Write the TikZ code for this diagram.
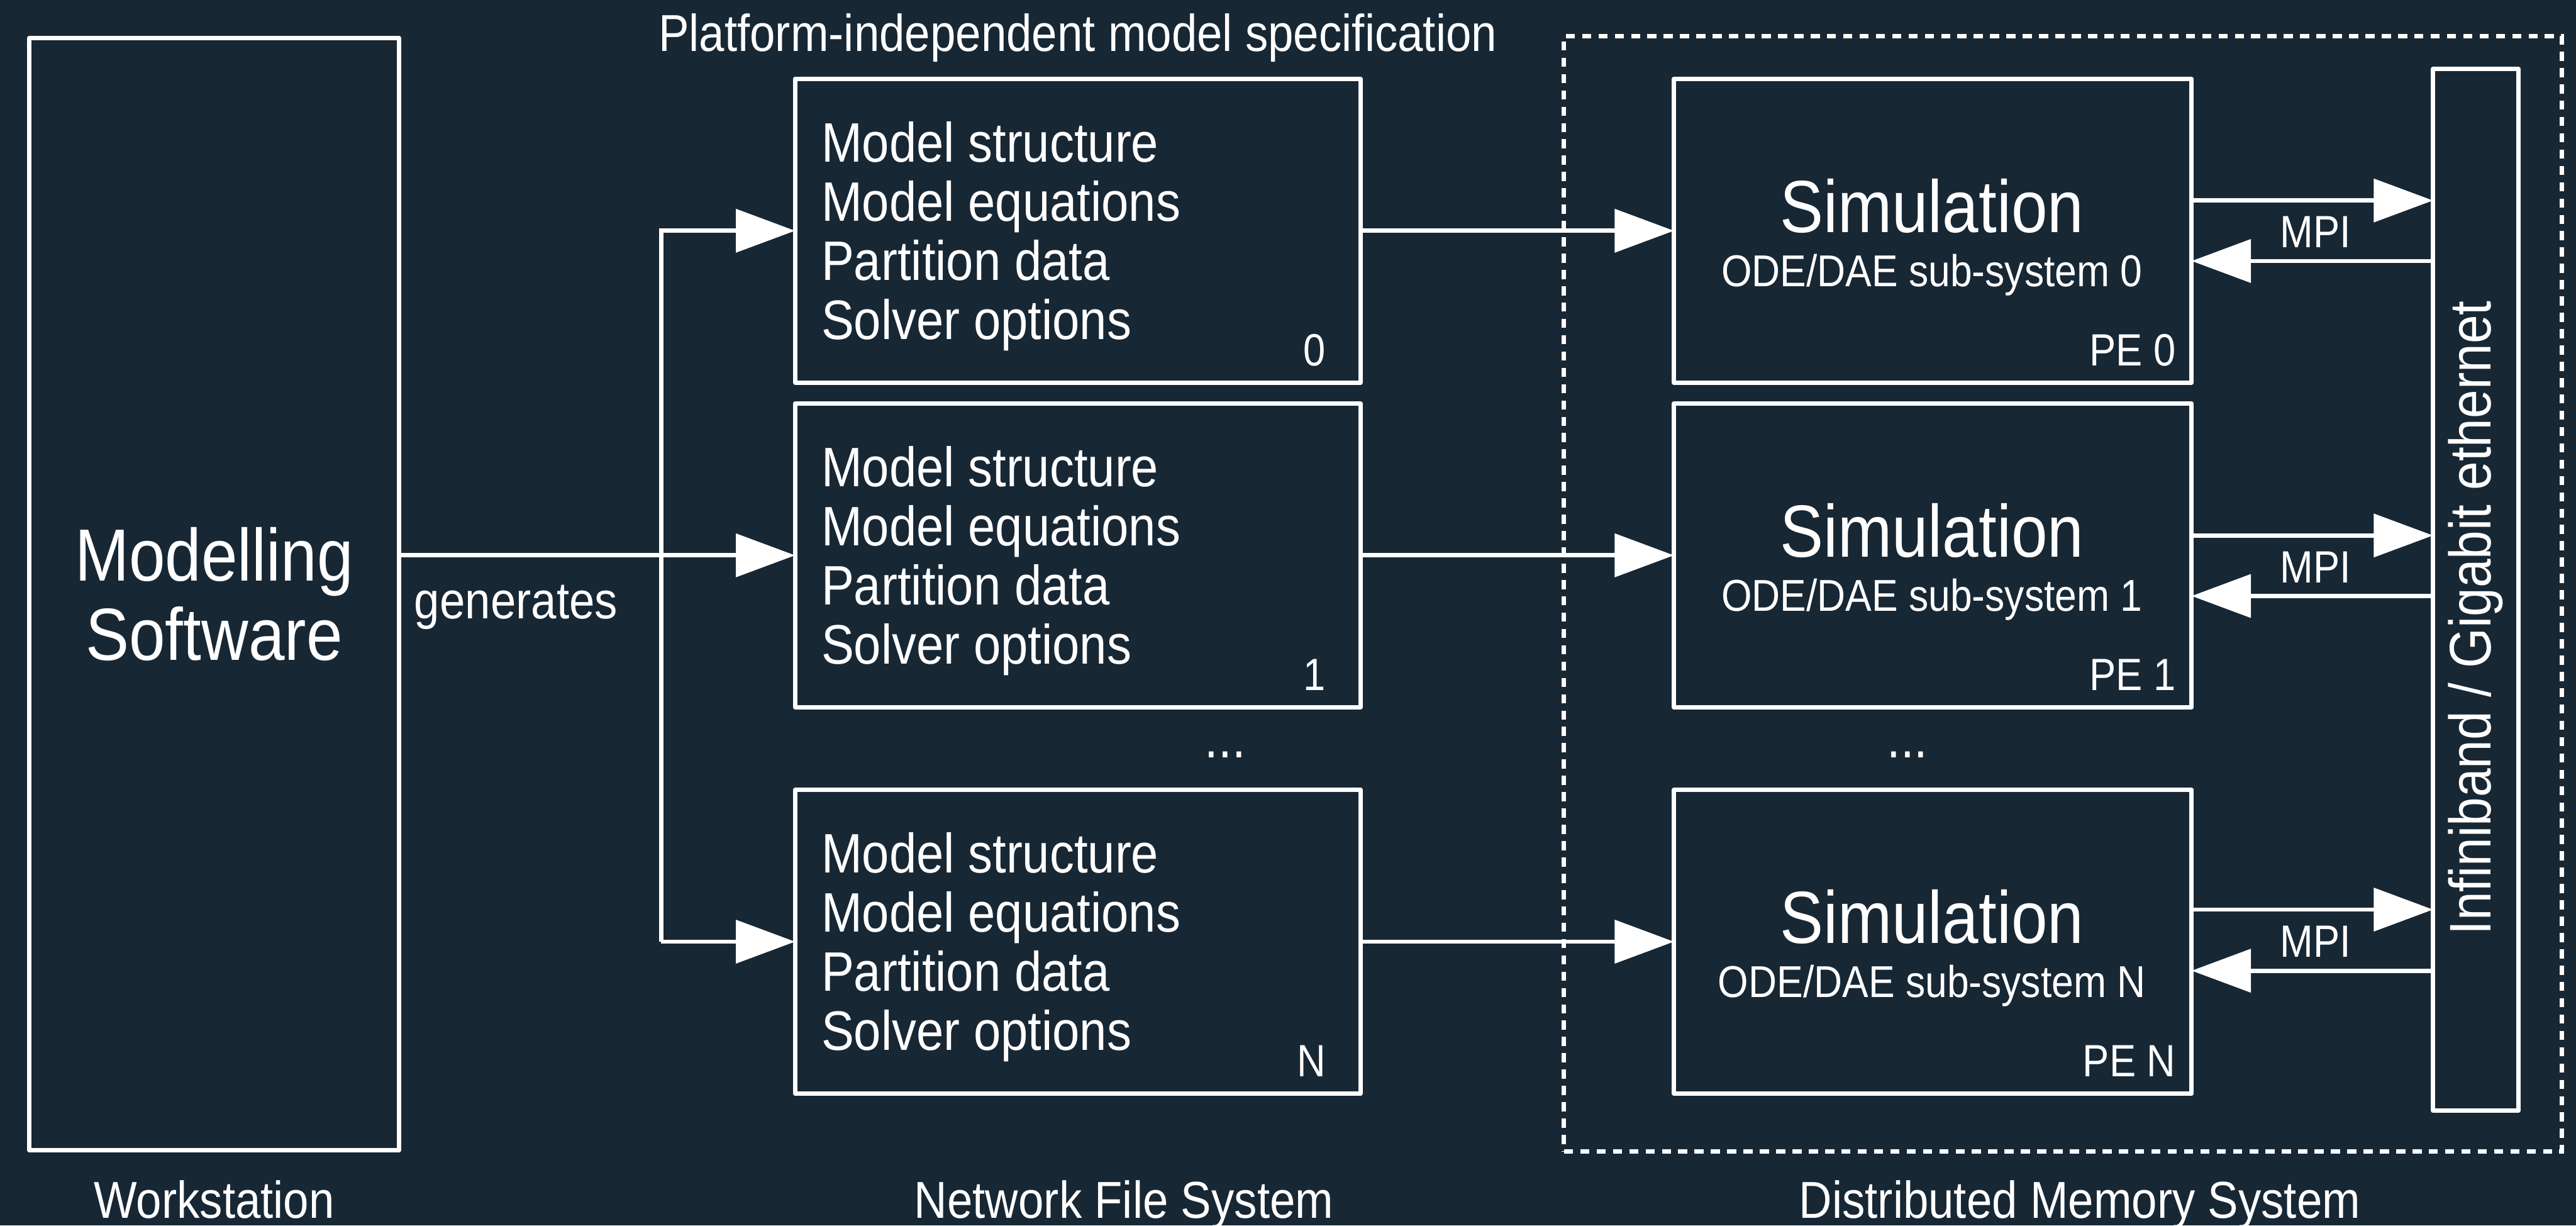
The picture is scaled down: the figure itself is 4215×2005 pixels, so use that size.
\documentclass[tikz,border=0pt]{standalone}
\usepackage{fontspec}
\setmainfont{Liberation Sans}[FakeStretch=0.88]
\usetikzlibrary{arrows.meta}

\definecolor{bgnavy}{RGB}{24,39,52}

\newcommand\specfont{\fontsize{9.1}{9.67}\selectfont}
\newcommand\simfont{\fontsize{12.1}{13}\selectfont}
\newcommand\subfont{\fontsize{7.3}{8}\selectfont}
\newcommand\pefont{\fontsize{7.4}{8.5}\selectfont}
\newcommand\lblfont{\fontsize{8.5}{10}\selectfont}
\newcommand\bigfont{\fontsize{12.1}{12.9}\selectfont}
\newcommand\netfont{\fontsize{9.6}{11}\selectfont}

\begin{document}
\begin{tikzpicture}[x=0.1pt,y=-0.1pt,
  box/.style={draw=white,line width=0.7pt,line join=round,inner sep=0pt,outer sep=0pt},
  specbox/.style={box,minimum width=92.5pt,minimum height=49.7pt},
  simbox/.style={box,minimum width=84.7pt,minimum height=49.7pt},
  wire/.style={white,line width=0.7pt},
  arr/.style={wire,-{Triangle[length=9.7pt,width=7pt]}},
  txt/.style={text=white,inner sep=0pt}]

\fill[bgnavy] (0,0) rectangle (4215,2005);
\useasboundingbox (0,0) rectangle (4215,2005);

% Distributed memory system frame
\node[draw=white,line width=0.7pt,dash pattern=on 1.5pt off 1.17pt,inner sep=0pt,
  minimum width=163.3pt,minimum height=182.5pt] (dms) at (3375.5,971.5) {};

% Workstation
\node[box,minimum width=60.5pt,minimum height=182pt,text=white,align=center,font=\bigfont]
  (ws) at (350.5,972) {Modelling\\Software};

% Model specification files
\node[specbox] (spec0) at (1763.5,377.5) {};
\node[specbox] (spec1) at (1763.5,908.5) {};
\node[specbox] (specN) at (1763.5,1540.5) {};
\node[txt,anchor=north west,align=left,font=\specfont] (spec0txt) at ([xshift=4.1pt,yshift=-6.8pt]spec0.north west)
  {Model structure\\Model equations\\Partition data\\Solver options};
\node[txt,anchor=north west,align=left,font=\specfont] (spec1txt) at ([xshift=4.1pt,yshift=-6.8pt]spec1.north west)
  {Model structure\\Model equations\\Partition data\\Solver options};
\node[txt,anchor=north west,align=left,font=\specfont] (specNtxt) at ([xshift=4.1pt,yshift=-6.8pt]specN.north west)
  {Model structure\\Model equations\\Partition data\\Solver options};
\node[txt,anchor=base east,font=\pefont] (spec0no) at ([xshift=-5.5pt,yshift=2.8pt]spec0.south east) {0};
\node[txt,anchor=base east,font=\pefont] (spec1no) at ([xshift=-5.5pt,yshift=2.8pt]spec1.south east) {1};
\node[txt,anchor=base east,font=\pefont] (specNno) at ([xshift=-5.5pt,yshift=2.8pt]specN.south east) {N};

% Simulation processes
\node[simbox] (sim0) at (3162.5,377.5) {};
\node[simbox] (sim1) at (3162.5,908.5) {};
\node[simbox] (simN) at (3162.5,1540.5) {};
\node[txt,anchor=base,font=\simfont] (sim0a) at ([xshift=-0.15pt,yshift=-25.1pt]sim0.north) {Simulation};
\node[txt,anchor=base,font=\subfont] (sim0b) at ([xshift=-0.15pt,yshift=-34pt]sim0.north) {ODE/DAE sub-system 0};
\node[txt,anchor=base,font=\simfont] (sim1a) at ([xshift=-0.15pt,yshift=-25.1pt]sim1.north) {Simulation};
\node[txt,anchor=base,font=\subfont] (sim1b) at ([xshift=-0.15pt,yshift=-34pt]sim1.north) {ODE/DAE sub-system 1};
\node[txt,anchor=base,font=\simfont] (simNa) at ([xshift=-0.15pt,yshift=-25.1pt]simN.north) {Simulation};
\node[txt,anchor=base,font=\subfont] (simNb) at ([xshift=-0.15pt,yshift=-34pt]simN.north) {ODE/DAE sub-system N};
\node[txt,anchor=base east,font=\pefont] (pe0) at ([xshift=-2.4pt,yshift=2.8pt]sim0.south east) {PE 0};
\node[txt,anchor=base east,font=\pefont] (pe1) at ([xshift=-2.4pt,yshift=2.8pt]sim1.south east) {PE 1};
\node[txt,anchor=base east,font=\pefont] (peN) at ([xshift=-2.4pt,yshift=2.8pt]simN.south east) {PE N};

\node[txt,anchor=base,font=\specfont] (dots1) at (2005,1240) {...};
\node[txt,anchor=base,font=\specfont] (dots2) at (3121,1240) {...};

% Interconnect
\node[box,minimum width=14pt,minimum height=170.4pt] (ib) at (4051,965) {};
\node[txt,rotate=90,font=\netfont] (ibtxt) at (4051,1011) {Infiniband / Gigabit ethernet};

% generates
\coordinate (fork) at (1082,909);
\draw[arr] (ws.east |- spec1) -- (spec1);
\draw[arr] (fork |- specN) -- (fork |- spec0) -- (spec0);
\draw[arr] (fork |- specN) -- (specN);
\node[txt,anchor=base west,font=\lblfont] (gen) at (676,1012) {generates};

% files to processes
\draw[arr] (spec0) -- (sim0);
\draw[arr] (spec1) -- (sim1);
\draw[arr] (specN) -- (simN);

% MPI traffic
\coordinate (up0) at ([yshift=4.95pt]sim0.east);
\coordinate (dn0) at ([yshift=-4.95pt]sim0.east);
\coordinate (up1) at ([yshift=3.25pt]sim1.east);
\coordinate (dn1) at ([yshift=-6.65pt]sim1.east);
\coordinate (upN) at ([yshift=5.25pt]simN.east);
\coordinate (dnN) at ([yshift=-4.75pt]simN.east);
\draw[arr] (up0) -- (up0 -| ib.west);
\draw[arr] (dn0 -| ib.west) -- (dn0);
\draw[arr] (up1) -- (up1 -| ib.west);
\draw[arr] (dn1 -| ib.west) -- (dn1);
\draw[arr] (upN) -- (upN -| ib.west);
\draw[arr] (dnN -| ib.west) -- (dnN);
\node[txt,font=\pefont] (mpi0) at (3789,380) {MPI};
\node[txt,font=\pefont] (mpi1) at (3789,928) {MPI};
\node[txt,font=\pefont] (mpiN) at (3789,1540) {MPI};

% Captions
\node[txt,anchor=base,font=\lblfont] (pims) at (1763.5,84) {Platform-independent model specification};
\node[txt,anchor=base,font=\lblfont] (wslbl) at (350.5,1993) {Workstation};
\node[txt,anchor=base,font=\lblfont] (nfslbl) at (1839,1993) {Network File System};
\node[txt,anchor=base,font=\lblfont] (dmslbl) at (3403,1993) {Distributed Memory System};

\end{tikzpicture}
\end{document}
